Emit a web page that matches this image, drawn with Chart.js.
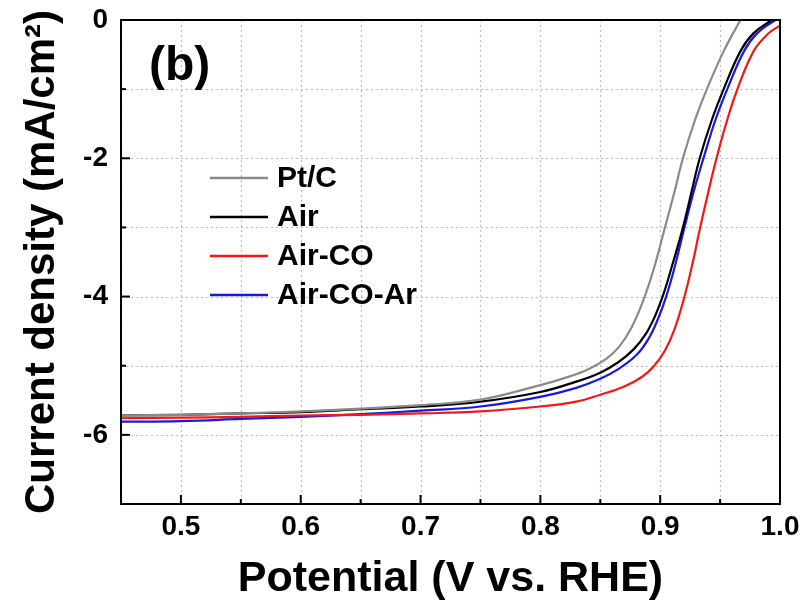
<!DOCTYPE html>
<html>
<head>
<meta charset="utf-8">
<script src="https://cdn.jsdelivr.net/npm/chart.js@4.4.1/dist/chart.umd.min.js"></script>
<style>
  html, body { margin: 0; padding: 0; background: #fff; }
  canvas { display: block; }
</style>
</head>
<body>
<canvas id="c" width="803" height="609"></canvas>
<script>
// ---- data ----
const seriesLabels = ['Pt/C', 'Air', 'Air-CO', 'Air-CO-Ar'];

const potentialPtC = [0.45,0.50,0.55,0.60,0.65,0.70,0.75,0.80,0.82,0.84,0.855,0.866,0.876,0.886,0.895,0.904,0.912,0.919,0.929,0.939,0.953,0.967];
const currentPtC   = [-5.72,-5.71,-5.69,-5.66,-5.62,-5.57,-5.49,-5.28,-5.18,-5.05,-4.90,-4.72,-4.45,-4.05,-3.58,-3.00,-2.48,-2.00,-1.45,-1.00,-0.45,0];

const potentialAir = [0.45,0.50,0.55,0.60,0.65,0.70,0.75,0.80,0.83,0.85,0.865,0.878,0.888,0.896,0.903,0.910,0.919,0.926,0.933,0.943,0.953,0.967,0.978,0.993];
const currentAir   = [-5.72,-5.71,-5.69,-5.67,-5.63,-5.59,-5.52,-5.38,-5.23,-5.10,-4.95,-4.76,-4.54,-4.27,-3.95,-3.55,-3.00,-2.50,-2.00,-1.45,-1.00,-0.45,-0.19,0];

const potentialAirCO = [0.45,0.50,0.55,0.60,0.65,0.70,0.75,0.80,0.83,0.85,0.870,0.885,0.895,0.904,0.912,0.920,0.927,0.933,0.940,0.947,0.955,0.964,0.978,0.990,1.00];
const currentAirCO   = [-5.76,-5.75,-5.74,-5.72,-5.71,-5.69,-5.66,-5.59,-5.52,-5.42,-5.30,-5.16,-5.00,-4.78,-4.47,-4.02,-3.52,-3.03,-2.50,-2.00,-1.50,-1.02,-0.45,-0.20,-0.08];

const potentialAirCOAr = [0.45,0.50,0.55,0.60,0.65,0.70,0.75,0.80,0.83,0.85,0.865,0.880,0.890,0.898,0.905,0.912,0.920,0.928,0.937,0.946,0.956,0.970,0.981,0.996];
const currentAirCOAr   = [-5.81,-5.80,-5.77,-5.74,-5.70,-5.65,-5.59,-5.45,-5.32,-5.19,-5.05,-4.85,-4.62,-4.33,-4.00,-3.58,-3.02,-2.48,-1.95,-1.45,-1.00,-0.45,-0.19,0];

const xMin = 0.45, xMax = 1.0, xStep = 0.05;
const yMin = -7, yMax = 0, yStep = 1;
const xTitle = 'Potential (V vs. RHE)';
const yTitle = 'Current density (mA/cm\u00B2)';
const panelLabel = '(b)';

// ---- build ----
const FONT = "'Liberation Sans', Arial, Helvetica, sans-serif";
function pts(xs, ys) { return xs.map((x, i) => ({ x: x, y: ys[i] })); }
const colors = ['#8a8a8a', '#000000', '#f01818', '#1818e0'];
const seriesData = [
  pts(potentialPtC, currentPtC),
  pts(potentialAir, currentAir),
  pts(potentialAirCO, currentAirCO),
  pts(potentialAirCOAr, currentAirCOAr)
];
const datasets = seriesLabels.map((lab, i) => ({
  label: lab,
  data: seriesData[i],
  showLine: true,
  borderColor: colors[i],
  backgroundColor: colors[i],
  borderWidth: 2.2,
  pointRadius: 0,
  tension: 0.4,
  fill: false
}));

function isMajorX(v) { return Math.abs(v * 10 - Math.round(v * 10)) < 1e-6; }
function isMajorY(v) { return Math.abs(v / 2 - Math.round(v / 2)) < 1e-6; }

const decorPlugin = {
  id: 'decor',
  beforeDatasetsDraw(chart) {
    const ctx = chart.ctx, ca = chart.chartArea;
    const xs = chart.scales.x, ys = chart.scales.y;
    ctx.save();
    ctx.strokeStyle = '#bcbcbc';
    ctx.lineWidth = 1.2;
    ctx.setLineDash([2, 3]);
    xs.ticks.forEach(t => {
      const px = Math.round(xs.getPixelForValue(t.value)) + 0.5;
      ctx.beginPath(); ctx.moveTo(px, ca.top); ctx.lineTo(px, ca.bottom); ctx.stroke();
    });
    ys.ticks.forEach(t => {
      const py = Math.round(ys.getPixelForValue(t.value)) + 0.5;
      ctx.beginPath(); ctx.moveTo(ca.left, py); ctx.lineTo(ca.right, py); ctx.stroke();
    });
    ctx.restore();
  },
  afterDatasetsDraw(chart) {
    const ctx = chart.ctx, ca = chart.chartArea;
    const xs = chart.scales.x, ys = chart.scales.y;
    ctx.save();
    ctx.setLineDash([]);
    ctx.strokeStyle = '#000';
    ctx.lineWidth = 2;
    xs.ticks.forEach(t => {
      const px = xs.getPixelForValue(t.value);
      const len = isMajorX(t.value) ? 9 : 5;
      ctx.beginPath(); ctx.moveTo(px, ca.bottom); ctx.lineTo(px, ca.bottom - len); ctx.stroke();
    });
    ys.ticks.forEach(t => {
      const py = ys.getPixelForValue(t.value);
      const len = isMajorY(t.value) ? 9 : 5;
      ctx.beginPath(); ctx.moveTo(ca.left, py); ctx.lineTo(ca.left + len, py); ctx.stroke();
    });
    ctx.strokeRect(ca.left, ca.top, ca.right - ca.left, ca.bottom - ca.top);
    ctx.restore();
  },
  afterDraw(chart) {
    const ctx = chart.ctx, ca = chart.chartArea;
    ctx.save();
    ctx.fillStyle = '#000';
    ctx.font = 'bold 48px ' + FONT;
    ctx.textAlign = 'left';
    ctx.textBaseline = 'middle';
    ctx.fillText(panelLabel, ca.left + 28, ca.top + 47);
    ctx.font = 'bold 30px ' + FONT;
    const rowGap = 39;
    chart.data.datasets.forEach((ds, i) => {
      const y = ca.top + 158 + i * rowGap;
      ctx.strokeStyle = ds.borderColor;
      ctx.lineWidth = 2.5;
      ctx.beginPath(); ctx.moveTo(ca.left + 89, y); ctx.lineTo(ca.left + 147, y); ctx.stroke();
      ctx.fillStyle = '#000';
      ctx.fillText(ds.label, ca.left + 156, y + 1);
    });
    ctx.restore();
  }
};

new Chart(document.getElementById('c'), {
  type: 'scatter',
  data: { datasets: datasets },
  plugins: [decorPlugin],
  options: {
    responsive: false,
    animation: false,
    devicePixelRatio: 1,
    layout: { padding: { left: 0, right: 23, top: 20, bottom: 0 } },
    plugins: { legend: { display: false }, tooltip: { enabled: false } },
    scales: {
      x: {
        type: 'linear',
        min: xMin, max: xMax,
        grid: { display: false, drawTicks: false, tickLength: 0 },
        border: { display: false },
        ticks: {
          stepSize: xStep, autoSkip: false, maxRotation: 0, minRotation: 0,
          padding: 0, color: '#000',
          font: { family: FONT, size: 28, weight: 'bold', lineHeight: 1.68 },
          callback: v => isMajorX(v) ? v.toFixed(1) : ''
        },
        title: {
          display: true, text: xTitle, color: '#000',
          font: { family: FONT, size: 43, weight: 'bold' },
          padding: { top: 0, bottom: 4 }
        },
        afterFit: s => { s.height = 105; }
      },
      y: {
        type: 'linear',
        min: yMin, max: yMax,
        grid: { display: false, drawTicks: false, tickLength: 0 },
        border: { display: false },
        ticks: {
          stepSize: yStep, autoSkip: false,
          padding: 13, color: '#000',
          font: { family: FONT, size: 28, weight: 'bold', lineHeight: 0.45 },
          callback: v => isMajorY(v) ? String(Math.round(v) === 0 ? 0 : Math.round(v)) : ''
        },
        title: {
          display: true, text: yTitle, color: '#000',
          font: { family: FONT, size: 42, weight: 'bold' },
          padding: { top: 17, bottom: 0 }
        },
        afterFit: s => { s.width = 121; }
      }
    }
  }
});
</script>
</body>
</html>
